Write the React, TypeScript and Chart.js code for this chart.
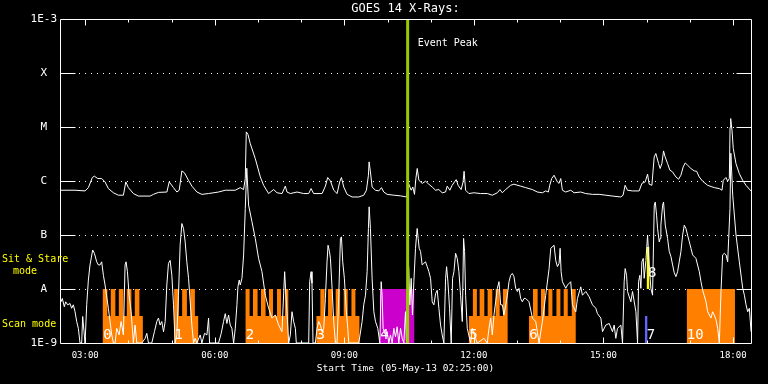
import React, { useEffect, useRef } from 'react';
import { Chart, registerables } from 'chart.js';

Chart.register(...registerables);

const MONO = '"DejaVu Sans Mono", "Liberation Mono", monospace';

// ---- axis ranges / ticks (time in minutes after 00:00 UT) ----
const X_START = '02:25';
const X_END = '18:25';
const X_MAJOR_TICKS = ['03:00', '06:00', '09:00', '12:00', '15:00', '18:00'];
const X_HOUR_TICKS = ['03:00', '04:00', '05:00', '06:00', '07:00', '08:00', '09:00', '10:00', '11:00', '12:00', '13:00', '14:00', '15:00', '16:00', '17:00', '18:00'];
const Y_TICK_VALUES = [1e-9, 1e-8, 1e-7, 1e-6, 1e-5, 1e-4, 1e-3];
const Y_TICK_LABELS = ['1E-9', 'A', 'B', 'C', 'M', 'X', '1E-3'];
const GRID_LEVELS = [1e-8, 1e-7, 1e-6, 1e-5, 1e-4];

const TITLE = 'GOES 14 X-Rays:';
const X_TITLE = 'Start Time (05-May-13 02:25:00)';
const EVENT_PEAK_TIME = 628;

// ---- GOES long channel (1-8 A) [minute, W/m^2] ----
const LONG_CHANNEL: [number, number][] = [
  [146.4, 6.8e-7], [165.9, 6.8e-7], [179.8, 6.6e-7], [184.4, 7.6e-7], [189.9, 1.17e-6], [192.7, 1.24e-6], [197.5, 1.12e-6], [203.0, 1.12e-6],
  [207.6, 9.7e-7], [212.2, 7.3e-7], [219.2, 6.1e-7], [226.1, 5.5e-7], [233.1, 5.5e-7], [236.4, 9.7e-7], [240.0, 7.6e-7], [247.0, 5.9e-7],
  [253.9, 5.3e-7], [270.2, 5.3e-7], [274.8, 5.7e-7], [281.8, 6.2e-7], [293.5, 6.3e-7], [296.7, 9.7e-7], [302.6, 7.6e-7], [307.4, 6.3e-7],
  [310.6, 6.8e-7], [314.3, 1.55e-6], [317.9, 1.43e-6], [323.5, 1.04e-6], [328.2, 8.1e-7], [335.2, 6.3e-7], [342.1, 5.7e-7], [351.3, 5.9e-7],
  [365.2, 6.3e-7], [374.6, 6.8e-7], [388.5, 6.8e-7], [395.4, 7.6e-7], [400.0, 7.0e-7], [402.4, 1.12e-6], [403.8, 8.2e-6], [406.1, 7.4e-6],
  [409.3, 5.0e-6], [416.3, 2.63e-6], [423.3, 1.2e-6], [427.9, 8.4e-7], [434.8, 5.9e-7], [441.8, 7.0e-7], [446.5, 6.1e-7], [453.5, 5.9e-7],
  [458.0, 8.1e-7], [460.4, 6.3e-7], [465.0, 5.9e-7], [474.3, 6.3e-7], [483.5, 5.9e-7], [490.5, 5.9e-7], [493.8, 7.3e-7], [497.4, 5.9e-7],
  [509.1, 5.9e-7], [513.7, 8.1e-7], [516.9, 1.17e-6], [520.7, 1.01e-6], [525.3, 6.8e-7], [530.0, 5.9e-7], [533.6, 9.7e-7], [536.0, 1.17e-6],
  [539.2, 7.8e-7], [543.9, 5.7e-7], [550.8, 5.1e-7], [560.1, 5.1e-7], [567.0, 5.5e-7], [570.7, 6.8e-7], [573.5, 1.29e-6], [574.4, 2.28e-6],
  [576.3, 1.49e-6], [578.6, 7.8e-7], [583.3, 6.8e-7], [587.9, 6.6e-7], [591.6, 7.6e-7], [594.8, 6.3e-7], [599.5, 5.7e-7], [608.7, 5.5e-7],
  [618.0, 5.35e-7], [626.4, 5.1e-7], [629.6, 8.8e-7], [632.9, 6.8e-7], [635.2, 7.8e-7], [637.5, 5.7e-7], [639.4, 1.12e-6], [641.3, 1.72e-6],
  [643.6, 1.04e-6], [648.3, 9.1e-7], [652.8, 1.0e-6], [657.4, 8.8e-7], [662.1, 7.8e-7], [666.7, 6.8e-7], [671.3, 7.0e-7], [676.0, 6.1e-7],
  [680.6, 6.3e-7], [683.0, 8.1e-7], [686.6, 6.8e-7], [689.8, 8.4e-7], [695.4, 1.07e-6], [698.1, 8.4e-7], [702.3, 7.0e-7], [705.0, 9.7e-7],
  [706.4, 1.53e-6], [708.5, 6.8e-7], [713.1, 5.9e-7], [720.0, 6.1e-7], [729.3, 5.9e-7], [738.6, 5.9e-7], [745.6, 5.5e-7], [752.6, 6.1e-7],
  [756.2, 7.0e-7], [759.5, 6.1e-7], [764.1, 7.0e-7], [771.1, 8.4e-7], [775.6, 8.8e-7], [785.0, 8.1e-7], [792.0, 7.6e-7], [801.3, 7.0e-7],
  [808.2, 6.3e-7], [815.2, 6.1e-7], [819.8, 6.6e-7], [823.5, 6.3e-7], [825.4, 8.4e-7], [828.1, 1.12e-6], [831.4, 1.29e-6], [836.0, 9.7e-7],
  [838.3, 9.1e-7], [840.7, 1.12e-6], [843.0, 6.8e-7], [847.6, 6.3e-7], [854.6, 6.8e-7], [859.2, 6.1e-7], [868.5, 6.3e-7], [875.4, 5.9e-7],
  [884.7, 5.7e-7], [894.0, 5.7e-7], [903.3, 5.5e-7], [912.6, 5.3e-7], [924.1, 5.1e-7], [927.3, 5.5e-7], [930.1, 8.4e-7], [933.4, 6.8e-7],
  [940.4, 6.6e-7], [949.6, 6.6e-7], [953.4, 9.1e-7], [958.0, 9.7e-7], [961.3, 1.35e-6], [963.5, 8.8e-7], [967.3, 8.4e-7], [970.5, 2.82e-6],
  [972.8, 3.26e-6], [976.6, 2.13e-6], [978.8, 1.72e-6], [981.2, 2.13e-6], [983.5, 3.64e-6], [985.7, 2.82e-6], [989.1, 2.13e-6], [992.3, 1.6e-6],
  [996.0, 1.49e-6], [1000.6, 1.2e-6], [1004.4, 1.09e-6], [1007.6, 1.29e-6], [1010.8, 1.84e-6], [1013.6, 2.18e-6], [1016.9, 1.98e-6], [1021.5, 1.72e-6],
  [1026.1, 1.55e-6], [1029.4, 1.53e-6], [1033.1, 1.2e-6], [1037.8, 1.0e-6], [1044.7, 8.4e-7], [1054.0, 7.6e-7], [1060.9, 7.3e-7], [1064.7, 6.8e-7],
  [1066.5, 1.04e-6], [1070.2, 1.17e-6], [1072.6, 1.0e-6], [1074.9, 1.12e-6], [1075.9, 1.0e-5], [1076.8, 1.45e-5], [1078.6, 8.8e-6], [1080.4, 4.03e-6],
  [1084.1, 2.13e-6], [1088.7, 1.39e-6], [1093.4, 1.04e-6], [1098.0, 8.4e-7], [1104.9, 6.6e-7],
];

// ---- GOES short channel (0.5-4 A) [minute, W/m^2] ----
const SHORT_CHANNEL: [number, number][] = [
  [146.4, 5.8e-9], [148.2, 6.7e-9], [151.0, 4.7e-9], [152.9, 5.8e-9], [155.7, 5.1e-9], [158.9, 5.4e-9], [161.2, 4.4e-9], [163.5, 5.1e-9],
  [165.9, 3.8e-9], [168.2, 2.5e-9], [170.5, 1.87e-9], [172.8, 1e-9], [175.1, 1e-9], [176.5, 3.1e-9], [178.4, 1.62e-9], [179.8, 1e-9],
  [182.1, 5.1e-9], [184.4, 1.47e-8], [186.7, 2.8e-8], [190.4, 5.3e-8], [192.8, 4.6e-8], [196.0, 3.2e-8], [198.3, 2.8e-8], [200.6, 2.8e-8],
  [202.9, 3.2e-8], [205.3, 1.8e-8], [207.6, 1.19e-8], [212.2, 4.4e-9], [216.9, 1.41e-9], [219.2, 1e-9], [221.5, 1e-9], [223.8, 1.87e-9],
  [227.1, 1.41e-9], [229.9, 2.5e-9], [233.1, 1.41e-9], [235.4, 2.8e-8], [236.8, 3.2e-8], [238.7, 2.1e-8], [241.0, 7.7e-9], [243.8, 3.8e-9],
  [247.0, 1e-9], [249.3, 2.15e-9], [251.7, 1e-9], [258.6, 1e-9], [263.3, 1.22e-9], [265.6, 1.51e-9], [267.9, 1e-9], [272.5, 1e-9],
  [276.2, 1.62e-9], [279.5, 2.5e-9], [281.8, 2.9e-9], [284.1, 2.15e-9], [286.4, 2.5e-9], [288.8, 1.62e-9], [291.1, 2.5e-9], [293.4, 1.19e-8],
  [295.7, 3.0e-8], [298.0, 3.4e-8], [300.4, 1.8e-8], [302.7, 5.1e-9], [305.0, 1e-9], [307.3, 1.41e-9], [309.6, 7.7e-9], [311.9, 6.5e-8],
  [314.3, 1.64e-7], [316.6, 1.33e-7], [318.9, 7.5e-8], [321.2, 3.2e-8], [323.6, 1.58e-8], [325.9, 5.8e-9], [328.2, 2.15e-9], [330.5, 1e-9],
  [332.8, 1.22e-9], [335.1, 1e-9], [339.8, 1.41e-9], [342.1, 1e-9], [345.8, 1.51e-9], [349.1, 1.41e-9], [351.4, 2.9e-9], [352.8, 1e-9],
  [365.3, 1e-9], [369.0, 1.51e-9], [372.2, 2.5e-9], [374.6, 3.5e-9], [376.9, 2.3e-9], [379.2, 3.3e-9], [381.5, 2.15e-9], [383.8, 1.87e-9],
  [386.2, 1e-9], [388.5, 1.87e-9], [390.8, 5.1e-9], [392.2, 1.1e-8], [394.0, 1.47e-8], [395.4, 1.19e-8], [397.8, 1.58e-8], [400.1, 4.3e-8],
  [402.4, 3.1e-7], [404.5, 1.74e-6], [407.0, 3.6e-7], [411.7, 1.77e-7], [416.3, 8.7e-8], [420.9, 3.7e-8], [425.6, 2.1e-8], [430.2, 7.7e-9],
  [434.9, 4.4e-9], [439.5, 2.9e-9], [444.1, 3.3e-9], [448.8, 2.15e-9], [453.4, 1.62e-9], [457.1, 2.1e-8], [458.9, 7.7e-9], [460.3, 3.8e-9],
  [462.7, 1e-9], [465.0, 1.41e-9], [467.3, 3.8e-9], [469.6, 2.5e-9], [472.0, 1.87e-9], [473.3, 1e-9], [490.5, 1e-9], [491.9, 1.37e-8],
  [493.8, 2.1e-8], [495.1, 1.28e-8], [496.5, 1e-9], [499.8, 1e-9], [502.1, 1.87e-9], [504.4, 2.5e-9], [506.7, 2.15e-9], [509.1, 1.62e-9],
  [511.4, 1.87e-9], [513.7, 6.7e-9], [516.0, 3.2e-8], [517.4, 6.5e-8], [519.3, 5.0e-8], [520.7, 3.7e-8], [523.0, 1.03e-8], [525.3, 2.5e-9],
  [527.6, 1e-9], [529.9, 1e-9], [532.3, 7.7e-9], [534.6, 8.7e-8], [536.0, 9.3e-8], [537.8, 3.2e-8], [540.1, 1.58e-8], [542.5, 4.4e-9],
  [544.8, 1.87e-9], [546.2, 1e-9], [560.1, 1e-9], [564.7, 2.5e-9], [567.0, 5.1e-9], [569.4, 7.7e-9], [571.7, 2.1e-8], [573.5, 1.33e-7],
  [574.5, 3.35e-7], [576.3, 1.33e-7], [578.6, 1.58e-8], [581.0, 3.8e-9], [583.3, 2.5e-9], [586.5, 1.87e-9], [589.3, 1e-9], [591.2, 1.37e-8],
  [592.5, 7.7e-9], [593.9, 1.87e-9], [597.2, 1.41e-9], [599.5, 1.62e-9], [601.8, 1e-9], [604.1, 1.41e-9], [606.5, 1e-9], [608.8, 1.87e-9],
  [611.1, 1.3e-9], [613.4, 2.0e-9], [615.7, 1e-9], [618.1, 1.87e-9], [620.4, 1.22e-9], [622.7, 1e-9], [625.0, 3.8e-9], [626.4, 1e-9],
  [628.3, 3.7e-8], [629.6, 2.4e-8], [631.0, 5.1e-9], [632.9, 1.58e-8], [634.7, 3.3e-9], [636.6, 1.37e-8], [638.9, 5.7e-8], [641.2, 1.33e-7],
  [642.6, 8.7e-8], [644.0, 5.7e-8], [645.9, 5.0e-8], [648.2, 2.8e-8], [650.5, 3.0e-8], [652.8, 3.2e-8], [655.2, 2.6e-8], [657.5, 2.1e-8],
  [659.8, 1.58e-8], [662.1, 5.8e-9], [664.4, 5.1e-9], [666.8, 8.2e-9], [669.1, 9.5e-9], [671.4, 4.4e-9], [673.7, 2.15e-9], [676.0, 1.41e-9],
  [678.3, 1e-9], [680.7, 1.58e-8], [682.1, 2.6e-8], [683.9, 1.37e-8], [686.2, 4.4e-9], [688.5, 1e-9], [690.4, 1.58e-8], [692.3, 2.1e-8],
  [694.6, 4.6e-8], [696.9, 3.7e-8], [699.2, 2.1e-8], [701.5, 7.7e-9], [703.9, 2.5e-9], [705.7, 8.7e-8], [707.1, 5.0e-8], [708.5, 7.7e-9],
  [710.8, 1.87e-9], [715.5, 1e-9], [717.8, 1.87e-9], [722.4, 1.22e-9], [724.7, 1e-9], [734.0, 1.22e-9], [738.6, 1e-9], [741.0, 1.87e-9],
  [743.3, 2.9e-9], [745.6, 1.41e-9], [747.9, 3.3e-9], [750.2, 5.8e-9], [752.6, 1.03e-8], [754.9, 1.37e-8], [757.2, 5.1e-9], [759.5, 5.1e-9],
  [761.8, 3.3e-9], [764.2, 5.1e-9], [766.5, 7.7e-9], [768.8, 1.37e-8], [771.1, 1.8e-8], [773.4, 1.95e-8], [775.7, 1.7e-8], [778.1, 1.03e-8],
  [780.4, 9.0e-9], [782.7, 1.03e-8], [785.0, 6.7e-9], [787.3, 5.8e-9], [789.7, 6.7e-9], [792.0, 6.7e-9], [796.6, 5.8e-9], [801.3, 2.9e-9],
  [805.9, 2.5e-9], [810.6, 1e-9], [815.2, 2.5e-9], [819.8, 7.7e-9], [824.5, 2.4e-8], [826.8, 5.7e-8], [831.4, 6.5e-8], [833.7, 3.4e-8],
  [836.1, 2.6e-8], [838.4, 3.0e-8], [839.8, 5.7e-8], [841.2, 2.1e-8], [843.0, 1.37e-8], [847.7, 1.03e-8], [850.0, 1.19e-8], [854.6, 1.37e-8],
  [856.9, 5.1e-9], [861.6, 3.8e-9], [863.9, 6.7e-9], [868.5, 1.1e-8], [870.8, 7.7e-9], [875.5, 9.0e-9], [880.1, 7.2e-9], [884.8, 5.1e-9],
  [889.4, 4.4e-9], [891.7, 3.5e-9], [896.4, 2.9e-9], [898.7, 1.62e-9], [903.3, 2.15e-9], [908.0, 2.3e-9], [912.6, 1.62e-9], [914.9, 2.15e-9],
  [917.2, 1.22e-9], [919.5, 1.87e-9], [924.2, 2.15e-9], [926.5, 1e-9], [928.8, 1.37e-8], [930.2, 2.4e-8], [932.1, 1.8e-8], [933.5, 9.0e-9],
  [938.1, 5.8e-9], [940.4, 9.0e-9], [945.1, 3.8e-9], [947.4, 1e-9], [948.8, 1.37e-8], [950.6, 1.8e-8], [952.0, 1.03e-8], [953.4, 3.2e-8],
  [955.3, 3.7e-8], [956.6, 1.58e-8], [959.0, 3.4e-8], [961.3, 1.0e-7], [963.6, 2.8e-8], [965.9, 1.03e-8], [968.2, 7.7e-9], [970.6, 3.6e-7],
  [972.0, 4.1e-7], [973.8, 2.35e-7], [975.2, 1.33e-7], [977.5, 7.5e-8], [978.9, 8.7e-8], [979.8, 1.53e-7], [982.2, 3.6e-7], [983.5, 4.1e-7],
  [985.9, 1.53e-7], [989.1, 8.7e-8], [991.4, 5.0e-8], [993.8, 4.0e-8], [996.1, 2.8e-8], [998.4, 2.0e-8], [1000.7, 1.7e-8], [1003.0, 2.1e-8],
  [1005.3, 3.2e-8], [1007.7, 5.0e-8], [1010.0, 1.0e-7], [1012.3, 1.53e-7], [1014.6, 1.33e-7], [1016.9, 1.0e-7], [1019.3, 7.5e-8], [1021.6, 5.7e-8],
  [1023.9, 4.3e-8], [1028.5, 3.7e-8], [1033.2, 2.1e-8], [1035.5, 1.37e-8], [1037.8, 9.6e-9], [1042.5, 5.8e-9], [1044.8, 3.8e-9], [1049.4, 2.9e-9],
  [1051.7, 3.8e-9], [1054.0, 3.3e-9], [1056.4, 2.7e-9], [1058.7, 1.87e-9], [1061.0, 1e-9], [1063.3, 9.0e-9], [1065.6, 4.3e-8], [1068.0, 4.6e-8],
  [1070.3, 4.3e-8], [1072.6, 3.2e-8], [1074.0, 8.7e-8], [1075.8, 3.1e-7], [1077.0, 3.3e-6], [1079.6, 5.5e-7], [1084.2, 1.0e-7], [1088.8, 3.2e-8],
  [1093.5, 1.03e-8], [1095.8, 7.7e-9], [1098.1, 5.1e-9], [1100.4, 3.8e-9], [1102.7, 4.4e-9], [1105.1, 1.62e-9],
];

// ---- observing modes: [start minute, end minute] ----
const SCAN_LOW: [number, number][] = [
  [204.4, 260.1], [303.6, 337.0], [402.8, 462.2], [501.2, 561.0], [713.1, 766.9], [796.5, 861.5],
];
const SCAN_TALL: [number, number][] = [
  [204.4, 210.8], [215.5, 221.9], [226.7, 233.1], [237.8, 244.2], [248.9, 255.3],
  [303.6, 310.1], [314.7, 321.3], [325.9, 332.4],
  [402.8, 408.4], [413.1, 419.5], [424.2, 430.6], [435.4, 440.9], [446.5, 452.1], [457.6, 462.2],
  [506.7, 512.7], [517.4, 523.4], [528.0, 534.1], [539.2, 544.7], [549.9, 555.4],
  [718.6, 724.2], [728.0, 734.5], [739.1, 745.6], [750.2, 755.8], [760.4, 766.9],
  [802.1, 808.6], [813.2, 818.8], [823.5, 829.1], [834.7, 840.2], [844.8, 850.4], [856.0, 861.5],
  [1015.9, 1082.7],
];
const MAGENTA_BLOCK: [number, number] = [589.2, 637.5];
const BLUE_BLOCK: [number, number] = [957.5, 961.3];
const YELLOW_BLOCK: [number, number] = [959.9, 964.0];

const FLOOR_LEVEL = 1e-9;
const LOW_LEVEL = 3.16e-9;
const TALL_LEVEL = 1e-8;
const YELLOW_TOP = 6e-8;

const MODE_LABELS = ['0', '1', '2', '3', '4', '5', '6', '7', '8', '10'];
const MODE_LABEL_TIMES = [205.0, 304.0, 403.0, 501.5, 590.0, 713.5, 797.0, 960.3, 962.0, 1015.9];
const MODE_LABEL_LEVELS = [1.2e-9, 1.2e-9, 1.2e-9, 1.2e-9, 1.2e-9, 1.2e-9, 1.2e-9, 1.2e-9, 1.65e-8, 1.2e-9];

const toMin = (s: string) => {
  const [h, m] = s.split(':').map(Number);
  return h * 60 + m;
};
const fmtMin = (v: number) => {
  const h = Math.floor(v / 60);
  const m = Math.round(v - h * 60);
  return `${String(h).padStart(2, '0')}:${String(m).padStart(2, '0')}`;
};

function buildScanProfile() {
  const edges = Array.from(new Set([...SCAN_TALL.flat(), ...SCAN_LOW.flat()])).sort((a, b) => a - b);
  const pts: { x: number; y: number }[] = [{ x: toMin(X_START), y: FLOOR_LEVEL }];
  edges.forEach((t, i) => {
    const mid = i < edges.length - 1 ? (t + edges[i + 1]) / 2 : t + 0.5;
    let lvl = FLOOR_LEVEL;
    if (SCAN_LOW.some(([a, b]) => mid > a && mid < b)) lvl = LOW_LEVEL;
    if (SCAN_TALL.some(([a, b]) => mid > a && mid < b)) lvl = TALL_LEVEL;
    pts.push({ x: t, y: lvl });
  });
  pts.push({ x: toMin(X_END), y: FLOOR_LEVEL });
  return pts;
}

const decorPlugin = {
  id: 'goesDecor',
  beforeDatasetsDraw(chart: any) {
    const { ctx, chartArea: a, scales } = chart;
    const ys = scales.y;
    ctx.save();
    ctx.strokeStyle = '#ffffff';
    ctx.lineWidth = 1;
    ctx.setLineDash([1, 5]);
    GRID_LEVELS.forEach((v) => {
      const py = Math.round(ys.getPixelForValue(v)) + 0.5;
      ctx.beginPath();
      ctx.moveTo(a.left + 19, py);
      ctx.lineTo(a.right - 15, py);
      ctx.stroke();
    });
    ctx.restore();
  },
  afterDatasetsDraw(chart: any) {
    const { ctx, chartArea: a, scales } = chart;
    const xs = scales.x;
    const ys = scales.y;
    const L = Math.round(a.left) + 0.5;
    const R = Math.round(a.right) + 0.5;
    const T = Math.round(a.top) + 0.5;
    const B = Math.round(a.bottom) + 0.5;
    ctx.save();
    ctx.strokeStyle = '#ffffff';
    ctx.lineWidth = 1;
    // frame
    ctx.beginPath();
    ctx.rect(L, T, R - L, B - T);
    ctx.stroke();
    // y tick marks
    GRID_LEVELS.forEach((v) => {
      const py = Math.round(ys.getPixelForValue(v)) + 0.5;
      ctx.beginPath();
      ctx.moveTo(L, py);
      ctx.lineTo(L + 15, py);
      ctx.moveTo(R - 15, py);
      ctx.lineTo(R, py);
      ctx.stroke();
    });
    // x tick marks (top and bottom)
    const majors = X_MAJOR_TICKS.map(toMin);
    X_HOUR_TICKS.map(toMin).forEach((t) => {
      const px = Math.round(xs.getPixelForValue(t)) + 0.5;
      const len = majors.includes(t) ? 6 : 3;
      ctx.beginPath();
      ctx.moveTo(px, T);
      ctx.lineTo(px, T + len);
      ctx.moveTo(px, B);
      ctx.lineTo(px, B - len);
      ctx.stroke();
    });
    // event peak label
    ctx.fillStyle = '#ffffff';
    ctx.font = `10px ${MONO}`;
    ctx.textAlign = 'left';
    ctx.textBaseline = 'middle';
    ctx.fillText('Event Peak', xs.getPixelForValue(EVENT_PEAK_TIME) + 10, a.top + 24);
    // mode numbers
    ctx.font = `14px ${MONO}`;
    ctx.textBaseline = 'alphabetic';
    MODE_LABELS.forEach((lab, i) => {
      ctx.fillText(lab, xs.getPixelForValue(MODE_LABEL_TIMES[i]), ys.getPixelForValue(MODE_LABEL_LEVELS[i]));
    });
    // mode legend at left
    ctx.fillStyle = '#ffff00';
    ctx.font = `10px ${MONO}`;
    ctx.textBaseline = 'middle';
    ctx.fillText('Sit & Stare', 2, ys.getPixelForValue(3.6e-8));
    ctx.fillText('mode', 13, ys.getPixelForValue(2.15e-8));
    ctx.fillText('Scan mode', 2, ys.getPixelForValue(2.25e-9));
    ctx.restore();
  },
};

export default function App() {
  const canvasRef = useRef<HTMLCanvasElement | null>(null);

  useEffect(() => {
    const canvas = canvasRef.current;
    if (!canvas) return;
    const eventT = EVENT_PEAK_TIME;
    const chart = new Chart(canvas, {
      type: 'line',
      data: {
        datasets: [
          {
            label: 'Event Peak',
            data: [{ x: eventT, y: 1e-9 }, { x: eventT, y: 1e-3 }],
            borderColor: '#99cc00',
            borderWidth: 3,
            pointRadius: 0,
            order: 0,
          },
          {
            label: 'Long',
            data: LONG_CHANNEL.map(([x, y]) => ({ x, y })),
            borderColor: '#ffffff',
            borderWidth: 1,
            pointRadius: 0,
            tension: 0,
            order: 1,
          },
          {
            label: 'Short',
            data: SHORT_CHANNEL.map(([x, y]) => ({ x, y })),
            borderColor: '#ffffff',
            borderWidth: 1,
            pointRadius: 0,
            tension: 0,
            order: 2,
          },
          {
            label: 'Sit & Stare (yellow)',
            data: YELLOW_BLOCK.map((x) => ({ x, y: YELLOW_TOP })),
            borderColor: 'rgba(0,0,0,0)',
            backgroundColor: '#ffff00',
            fill: { value: TALL_LEVEL },
            pointRadius: 0,
            order: 3,
          },
          {
            label: 'Scan (blue)',
            data: BLUE_BLOCK.map((x) => ({ x, y: LOW_LEVEL })),
            borderColor: 'rgba(0,0,0,0)',
            backgroundColor: '#6464ff',
            fill: 'start',
            pointRadius: 0,
            order: 3,
          },
          {
            label: 'Sit & Stare (magenta)',
            data: MAGENTA_BLOCK.map((x) => ({ x, y: TALL_LEVEL })),
            borderColor: 'rgba(0,0,0,0)',
            backgroundColor: '#cc00cc',
            fill: 'start',
            pointRadius: 0,
            order: 4,
          },
          {
            label: 'Scan mode',
            data: buildScanProfile(),
            borderColor: 'rgba(0,0,0,0)',
            backgroundColor: '#ff8000',
            fill: 'start',
            stepped: true,
            pointRadius: 0,
            order: 5,
          },
        ] as any,
      },
      options: {
        animation: false,
        responsive: false,
        maintainAspectRatio: false,
        devicePixelRatio: 1,
        events: [],
        layout: { padding: { left: 0, right: 17, top: 0, bottom: 0 } },
        plugins: {
          legend: { display: false },
          tooltip: { enabled: false },
          title: {
            display: true,
            text: TITLE,
            color: '#ffffff',
            fullSize: false,
            font: { family: MONO, size: 12, weight: 'normal' },
            padding: { top: 2, bottom: 3 },
          },
        },
        scales: {
          x: {
            type: 'linear',
            min: toMin(X_START),
            max: toMin(X_END),
            afterBuildTicks: (s: any) => {
              s.ticks = X_MAJOR_TICKS.map((t) => ({ value: toMin(t) }));
            },
            afterFit: (s: any) => {
              s.height = 41;
            },
            ticks: {
              color: '#ffffff',
              font: { family: MONO, size: 9 },
              padding: 7,
              maxRotation: 0,
              autoSkip: false,
              callback: (v: any) => fmtMin(Number(v)),
            },
            grid: { display: false, drawTicks: false },
            border: { display: false },
            title: {
              display: true,
              text: X_TITLE,
              color: '#ffffff',
              font: { family: MONO, size: 9.5 },
              padding: { top: 0, bottom: 10 },
            },
          },
          y: {
            type: 'logarithmic',
            min: 1e-9,
            max: 1e-3,
            afterBuildTicks: (s: any) => {
              s.ticks = Y_TICK_VALUES.map((v) => ({ value: v }));
            },
            afterFit: (s: any) => {
              s.width = 60;
            },
            ticks: {
              color: '#ffffff',
              font: { family: MONO, size: 11 },
              padding: 3,
              crossAlign: 'center',
              autoSkip: false,
              callback: (_v: any, i: number) => Y_TICK_LABELS[i],
            },
            grid: { display: false, drawTicks: false },
            border: { display: false },
          },
        },
      } as any,
      plugins: [decorPlugin],
    });
    return () => chart.destroy();
  }, []);

  return (
    <div style={{ position: 'fixed', left: 0, top: 0, width: 768, height: 384, background: '#000000' }}>
      <canvas ref={canvasRef} width={768} height={384} style={{ display: 'block', width: 768, height: 384 }} />
    </div>
  );
}
